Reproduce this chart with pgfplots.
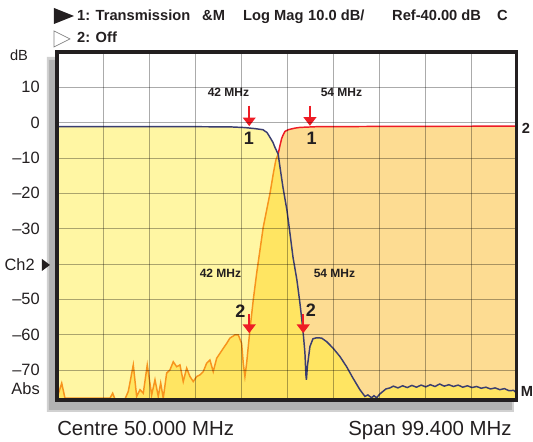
\documentclass[border=0pt]{standalone}
\usepackage{fontspec}
\setmainfont{Liberation Sans}
\usepackage{pgfplots}
\usepackage{pgfplotstable}
\pgfplotsset{compat=1.18}
\usepgfplotslibrary{fillbetween}
\usetikzlibrary{arrows.meta}

\definecolor{navy}{HTML}{3B3E70}
\definecolor{tor}{HTML}{F7941D}
\definecolor{tred}{HTML}{EE1C25}
\definecolor{lyel}{HTML}{FFF6A3}
\definecolor{lora}{HTML}{FDDC92}
\definecolor{byel}{HTML}{FFE562}
\definecolor{frame}{HTML}{231F20}

\pgfplotstableread{
f db
0.3 -1.1
10 -1.1
20.4 -1.1
30 -1.15
37.7 -1.2
40.9 -1.4
43.1 -1.7
44.8 -2.0
45.7 -2.8
46.33 -4.15
46.98 -5.6
47.41 -7.0
48.1 -8.9
48.5 -12.6
49.14 -18.3
50.0 -24.8
50.65 -31.3
51.3 -38.0
52.16 -44.6
52.81 -51.1
53.46 -58.7
53.89 -65.2
54.1 -71.4
54.21 -72.8
54.43 -68.9
54.97 -63.4
55.62 -61.2
56.42 -60.9
57.5 -61.0
58.58 -62.0
59.94 -63.8
61.45 -66.2
62.9 -69.1
64.26 -72.3
65.77 -75.6
66.85 -77.5
67.5 -77.1
68.3 -77.9
68.8 -77.3
69.38 -77.9
70.1 -76.8
70.74 -76.1
71.39 -75.4
72.26 -75.1
73 -74.6
74 -75.1
75 -74.5
76 -75.0
77 -74.4
78 -74.9
79 -74.3
80 -74.8
81 -74.2
82 -74.7
83 -74.0
84 -74.6
85 -74.2
86 -74.7
87 -74.3
88 -74.9
89 -74.5
90 -75.0
91 -74.7
92 -75.2
93 -74.9
94 -75.4
95 -75.1
96 -75.6
97 -75.3
98 -75.9
99 -75.8
99.7 -76.6
}\tnavy

\pgfplotstableread{
f db
0.3 -78.0
1.32 -73.75
2.03 -78.0
11.75 -78.0
12.34 -76.6
12.83 -78.3
14.99 -78.3
15.71 -76.1
16.79 -68.6
17.52 -77.5
18.24 -75.6
18.95 -76.6
19.81 -68.6
20.76 -77.1
21.48 -72.8
22.19 -77.5
22.71 -73.7
23.27 -78.0
24.0 -70.9
24.72 -70.0
25.43 -67.7
26.17 -69.1
26.88 -68.6
27.59 -73.3
28.33 -69.5
29.04 -71.9
29.75 -73.3
30.49 -71.9
31.2 -71.4
31.91 -70.5
32.65 -68.1
33.36 -67.2
34.07 -70.5
34.81 -66.7
35.52 -65.3
36.24 -63.9
36.97 -62.5
37.68 -61.0
38.76 -60.1
39.48 -60.1
40.21 -62.5
40.56 -68.1
40.92 -71.9
41.29 -68.1
41.64 -63.4
42.0 -58.7
42.72 -50.2
43.45 -42.7
44.17 -36.1
44.88 -29.6
45.61 -24.8
46.33 -20.1
47.04 -14.5
47.6 -10.6
48.1 -8.9
48.49 -6.5
48.86 -4.5
49.2 -3.4
49.57 -2.5
50.28 -2.0
51.73 -1.55
52.81 -1.35
56.42 -1.15
74.4 -1.05
99.7 -1.0
}\thp

\begin{document}
\begin{tikzpicture}
\begin{scope}[x=0.75pt,y=-0.75pt,shift={(-42.75pt,300pt)}]
\path[use as bounding box] (0,0) rectangle (533,442);
\fill[black!18] (47,57) -- (57,57) -- (57,400) -- (514,400) -- (514,412) -- (47,412) -- cycle;
\fill[black!30] (49,60) -- (57,60) -- (57,400) -- (512,400) -- (512,410) -- (49,410) -- cycle;
\end{scope}

\begin{axis}[
  scale only axis, width=345pt, height=261pt,
  xmin=0.3, xmax=99.7, ymin=-78.5, ymax=20,
  axis on top,
  axis background/.style={fill=white},
  xtick={10.24,20.18,30.12,40.06,50,59.94,69.88,79.82,89.76},
  xticklabels={},
  ytick={10,0,-10,-20,-30,-40,-50,-60,-70},
  yticklabels={10,0,--10,--20,--30,{},--50,--60,--70},
  grid=major,
  major grid style={black,opacity=0.33,line width=0.45pt},
  major tick length=0pt,
  axis line style={line width=2.4pt, draw=frame},
  yticklabel style={font=\fontsize{12.3}{14}\selectfont, text=frame, inner sep=0pt, xshift=-12.75pt},
  /pgf/number format/assume math mode=true,
]
\addplot[name path=botp, draw=none, forget plot] coordinates {(0.3,-78.5) (99.7,-78.5)};
\addplot[name path=navyp, draw=none, forget plot] table {\tnavy};
\addplot[name path=hpp, draw=none, forget plot] table {\thp};

\addplot[lyel, forget plot] fill between[of=navyp and botp];
\addplot[lora, forget plot] fill between[of=hpp and botp];
\addplot[byel, forget plot] fill between[of=hpp and botp, soft clip={domain=0.3:48.1}];
\addplot[byel, forget plot] fill between[of=navyp and botp, soft clip={domain=48.1:99.7}];

\addplot[tor, line width=1.1pt, restrict x to domain=0:48.1] table {\thp};
\addplot[tred, line width=1.1pt, restrict x to domain=48.1:100] table {\thp};
\addplot[navy, line width=1.1pt] table {\tnavy};

\addplot[tred, line width=1.5pt, -{Triangle[length=6.5pt,width=9.5pt]}] coordinates {(41.85,4.8) (41.85,-1.0)};
\addplot[tred, line width=1.5pt, -{Triangle[length=6.5pt,width=9.5pt]}] coordinates {(54.97,4.8) (54.97,-0.9)};
\addplot[tred, line width=1.5pt, -{Triangle[length=6.5pt,width=9.5pt]}] coordinates {(41.85,-54.2) (41.85,-59.6)};
\addplot[tred, line width=1.5pt, -{Triangle[length=6.5pt,width=9.5pt]}] coordinates {(53.52,-54.2) (53.52,-59.6)};
\end{axis}

\begin{scope}[x=0.75pt,y=-0.75pt,shift={(-42.75pt,300pt)}, text=frame]
\fill[frame] (54,8) -- (54,24) -- (74,16) -- cycle;
\draw[black!50, line width=0.5pt] (54,31) -- (54,47) -- (70,39) -- cycle;
\begin{scope}[every node/.style={inner sep=0pt, anchor=base west, font=\bfseries\fontsize{11}{12}\selectfont}]
\node at (77,21) {1: Transmission};
\node at (202,21) {\&M};
\node at (243,21) {Log Mag};
\node at (308,21) {10.0 dB/};
\node at (392,21) {Ref-40.00 dB};
\node at (497,21) {C};
\node at (77,43) {2: Off};
\end{scope}
\node[inner sep=0pt, font=\fontsize{11}{12}\selectfont] at (19,55) {dB};
\node[inner sep=0pt, anchor=east, font=\fontsize{12.3}{14}\selectfont] at (35,265) {Ch2};
\fill[frame] (42,259) -- (42,271) -- (50,265) -- cycle;
\node[inner sep=0pt, anchor=east, font=\fontsize{12.3}{14}\selectfont] at (40,389) {Abs};
\node[inner sep=0pt, anchor=base west, font=\fontsize{15.3}{17}\selectfont] at (57,436) {Centre 50.000 MHz};
\node[inner sep=0pt, anchor=base east, font=\fontsize{15.3}{17}\selectfont] at (512,436) {Span 99.400 MHz};
\node[inner sep=0pt, font=\bfseries\fontsize{11}{12}\selectfont] at (526,128) {2};
\node[inner sep=0pt, font=\bfseries\fontsize{11}{12}\selectfont] at (527,392) {M};
\begin{scope}[every node/.style={inner sep=0pt, font=\bfseries\fontsize{9}{10}\selectfont}]
\node at (228.5,92.5) {42 MHz};
\node at (341.5,92.5) {54 MHz};
\node at (220.5,273) {42 MHz};
\node at (334.5,273) {54 MHz};
\end{scope}
\begin{scope}[every node/.style={inner sep=0pt, font=\bfseries\fontsize{13.5}{14}\selectfont}]
\node at (249,138) {1};
\node at (311.7,138) {1};
\node at (240.5,311.5) {2};
\node at (311,310) {2};
\end{scope}
\end{scope}
\end{tikzpicture}
\end{document}
